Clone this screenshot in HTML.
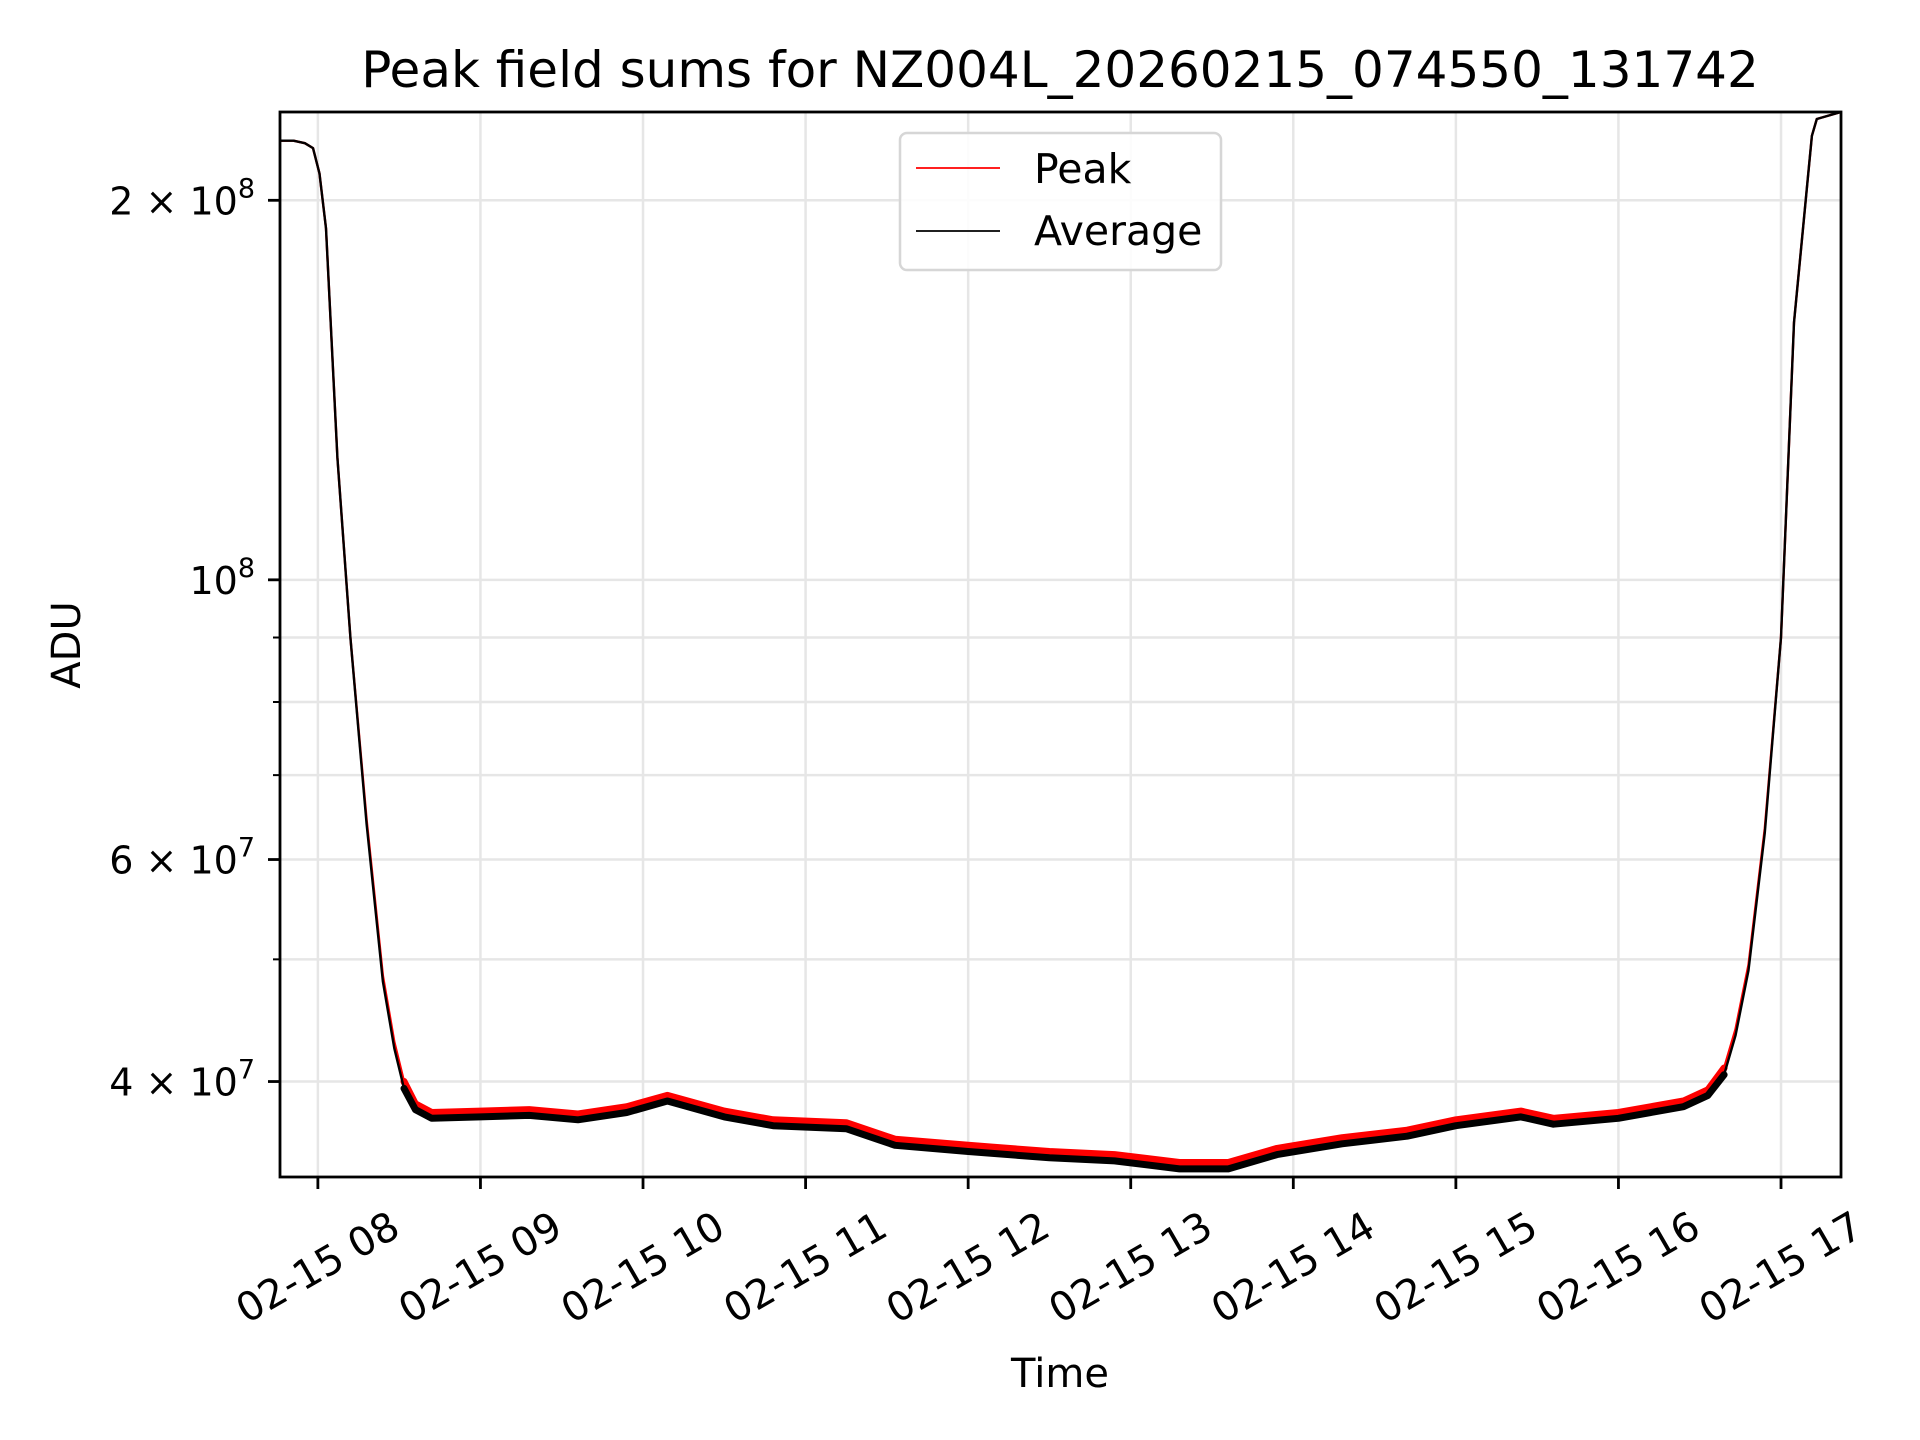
<!DOCTYPE html>
<html><head><meta charset="utf-8"><style>
html,body{margin:0;padding:0;background:#fff;}
svg{display:block;font-family:"DejaVu Sans","Liberation Sans",sans-serif;}
</style></head><body>
<svg id="chart" width="1920" height="1440" viewBox="0 0 1920 1440" xmlns="http://www.w3.org/2000/svg">
<rect width="1920" height="1440" fill="#fff"/>
<g id="grid"></g>
<g id="series"></g>
<rect x="280" y="112" width="1561" height="1065" fill="none" stroke="#000" stroke-width="2.8"/>
<g id="ticks"></g>
<text x="1060" y="87" font-size="50" text-anchor="middle">Peak field sums for NZ004L_20260215_074550_131742</text>
<text x="1060" y="1387" font-size="40" text-anchor="middle">Time</text>
<text x="0" y="0" font-size="40" text-anchor="middle" transform="translate(80,645) rotate(-90)">ADU</text>
<g>
<rect x="900" y="133" width="321" height="137" rx="7" fill="#fff" fill-opacity="0.85" stroke="#d6d6d6" stroke-width="2.5"/>
<line x1="916" y1="168" x2="1000" y2="168" stroke="#ff0000" stroke-width="1.8"/>
<text x="1034" y="183" font-size="41">Peak</text>
<line x1="916" y1="231" x2="1000" y2="231" stroke="#000" stroke-width="1.8"/>
<text x="1034" y="245" font-size="41">Average</text>
</g>
</svg>
<script>
const times = [7.767,7.85,7.92,7.97,8.01,8.05,8.12,8.2,8.3,8.4,8.47,8.53,8.6,8.7,9.0,9.3,9.6,9.9,10.15,10.5,10.8,11.25,11.55,12.0,12.5,12.9,13.3,13.6,13.9,14.3,14.7,15.0,15.4,15.6,16.0,16.4,16.55,16.65,16.72,16.8,16.9,17.0,17.08,17.16,17.19,17.22,17.369];
const averageVals = [2.23e8,2.23e8,2.22e8,2.2e8,2.1e8,1.9e8,1.25e8,9.0e7,6.4e7,4.8e7,4.25e7,3.95e7,3.8e7,3.74e7,3.75e7,3.76e7,3.73e7,3.78e7,3.86e7,3.75e7,3.69e7,3.67e7,3.56e7,3.52e7,3.48e7,3.46e7,3.41e7,3.41e7,3.50e7,3.57e7,3.62e7,3.69e7,3.75e7,3.70e7,3.74e7,3.82e7,3.9e7,4.05e7,4.35e7,4.9e7,6.3e7,9.0e7,1.6e8,2.05e8,2.25e8,2.32e8,2.35e8];
const peakVals = [2.23e8,2.23e8,2.22e8,2.2e8,2.1e8,1.9e8,1.25e8,9.0e7,6.45e7,4.85e7,4.3e7,4.0e7,3.84e7,3.78e7,3.79e7,3.80e7,3.77e7,3.82e7,3.90e7,3.79e7,3.73e7,3.71e7,3.60e7,3.56e7,3.52e7,3.50e7,3.45e7,3.45e7,3.54e7,3.61e7,3.66e7,3.73e7,3.79e7,3.74e7,3.78e7,3.86e7,3.94e7,4.1e7,4.4e7,4.95e7,6.35e7,9.0e7,1.6e8,2.05e8,2.25e8,2.32e8,2.35e8];
const xTickHours = [8,9,10,11,12,13,14,15,16,17];
const xTickLabels = ["02-15 08","02-15 09","02-15 10","02-15 11","02-15 12","02-15 13","02-15 14","02-15 15","02-15 16","02-15 17"];
const yMajorVals = [4e7,6e7,1e8,2e8];
const yMinorVals = [5e7,7e7,8e7,9e7];

const NS="http://www.w3.org/2000/svg";
const X0=280,X1=1841,Y0=112,Y1=1177;
const tMin=7.767,tMax=17.369;
function xs(t){return X0+(t-tMin)/(tMax-tMin)*(X1-X0);}
const lMax=Math.log10(2.35e8),lMin=Math.log10(3.36e7);
function ys(v){return Y0+(lMax-Math.log10(v))/(lMax-lMin)*(Y1-Y0);}
function mk(tag,parent,attrs){const e=document.createElementNS(NS,tag);for(const k in attrs)e.setAttribute(k,attrs[k]);parent.appendChild(e);return e;}
const grid=document.getElementById('grid'),ticks=document.getElementById('ticks'),series=document.getElementById('series');

xTickHours.forEach((h,i)=>{
  const x=xs(h);
  const g=mk('line',grid,{x1:x,x2:x,y1:Y0,y2:Y1,stroke:'#e6e6e6','stroke-width':2.5});
  
  
  const t=mk('line',ticks,{x1:x,x2:x,y1:Y1,y2:Y1+12,stroke:'#000','stroke-width':2.8});
  
  
  const lb=mk('text',ticks,{x:0,y:0,'font-size':40,'text-anchor':'middle','dominant-baseline':'central',transform:`translate(${x},1268) rotate(-30)`});
  lb.textContent=xTickLabels[i];
  
  
});
yMinorVals.forEach(v=>{
  const y=ys(v);
  const g=mk('line',grid,{x1:X0,x2:X1,y1:y,y2:y,stroke:'#e6e6e6','stroke-width':2.5});
  
  
  const t=mk('line',ticks,{x1:X0-7,x2:X0,y1:y,y2:y,stroke:'#000','stroke-width':2});
  
  
});
yMajorVals.forEach((v,i)=>{
  const y=ys(v);
  const g=mk('line',grid,{x1:X0,x2:X1,y1:y,y2:y,stroke:'#e6e6e6','stroke-width':2.5});
  
  
  const t=mk('line',ticks,{x1:X0-12,x2:X0,y1:y,y2:y,stroke:'#000','stroke-width':2.8});
  
  
  const exp=Math.floor(Math.log10(v)+1e-9);
  const mant=Math.round(v/Math.pow(10,exp));
  const lb=mk('text',ticks,{x:255,y:y+14,'font-size':38,'text-anchor':'end'});
  lb.textContent=(mant===1?'':mant+' × ')+'10';
  const sp=mk('tspan',lb,{dy:-17,'font-size':27});
  sp.textContent=String(exp);
  
  
});

function pathFor(vals,i0,i1){let d='';for(let i=i0;i<=i1;i++){d+=(i===i0?'M':'L')+xs(times[i]).toFixed(1)+','+ys(vals[i]).toFixed(1);}return d;}
const n=times.length-1;
const pb=mk('path',series,{d:pathFor(peakVals,11,37),fill:'none',stroke:'#ff0000','stroke-width':7,'stroke-linejoin':'round','stroke-linecap':'round'});


const pl=mk('path',series,{d:pathFor(peakVals,0,n),fill:'none',stroke:'#ff0000','stroke-width':2.4,'stroke-linejoin':'round'});


const ab=mk('path',series,{d:pathFor(averageVals,11,37),fill:'none',stroke:'#000','stroke-width':7,'stroke-linejoin':'round','stroke-linecap':'round'});


const al=mk('path',series,{d:pathFor(averageVals,0,n),fill:'none',stroke:'#000','stroke-width':2.4,'stroke-linejoin':'round'});


</script>
</body></html>
